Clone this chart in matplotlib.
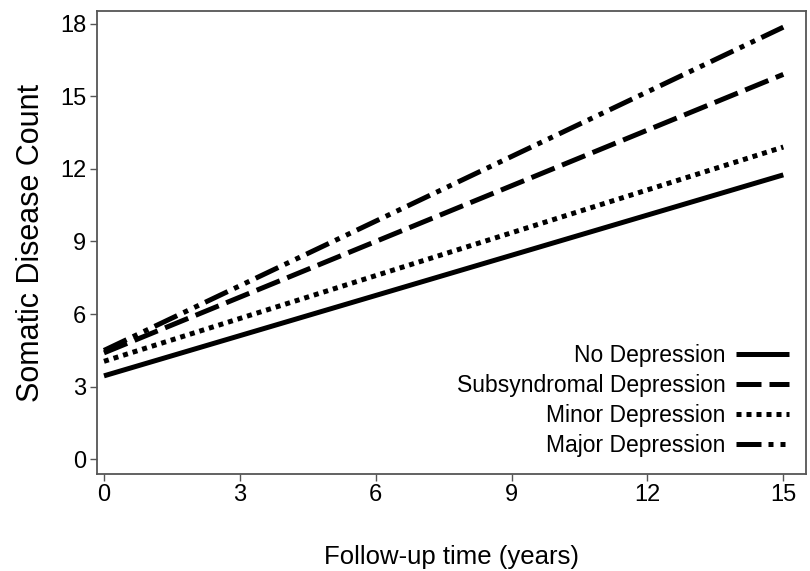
import numpy as np
import matplotlib.pyplot as plt

plt.rcParams['font.family'] = ['Liberation Sans', 'DejaVu Sans']

# Valores (inicio y fin de cada recta)
tiempo = [0, 15]
no_dep = [3.45, 11.75]
subsindromica = [4.4, 15.9]
menor = [4.05, 12.9]
mayor = [4.5, 17.85]

etiquetas = ["No Depression", "Subsyndromal Depression",
             "Minor Depression", "Major Depression"]
xticks = [0, 3, 6, 9, 12, 15]
yticks = [0, 3, 6, 9, 12, 15, 18]

fig = plt.figure(figsize=(8.1, 5.71), dpi=100)
ax = fig.add_axes([0.12, 0.17, 0.875, 0.81])

lw = 3.6
ax.plot(tiempo, no_dep, color="black", lw=lw, solid_capstyle="butt",
        label=etiquetas[0])
ax.plot(tiempo, subsindromica, color="black", lw=lw, linestyle=(0, (5, 1.6)),
        label=etiquetas[1])
ax.plot(tiempo, menor, color="black", lw=lw, linestyle=(0, (1, 1)),
        label=etiquetas[2])
ax.plot(tiempo, mayor, color="black", lw=lw,
        linestyle=(0, (5, 1.4, 1, 1.4, 1, 1.4)), label=etiquetas[3])

ax.set_xlim(-0.15, 15.5)
ax.set_ylim(-0.6, 18.5)
ax.set_xticks(xticks)
ax.set_yticks(yticks)
ax.tick_params(labelsize=17, length=5, width=1, color="#555555", pad=3)
ax.tick_params(axis="x", pad=2)

for s in ax.spines.values():
    s.set_color("#555555")
    s.set_linewidth(1.3)

ax.set_xlabel("Follow-up time (years)", fontsize=18.5, labelpad=28)
ax.set_ylabel("Somatic Disease Count", fontsize=22, labelpad=10)

ax.legend(loc="lower right", frameon=False, markerfirst=False, fontsize=16.5,
          handlelength=2.3, labelspacing=0.3, borderaxespad=0.35,
          handletextpad=0.45)

fig.savefig("out.png", dpi=100)
